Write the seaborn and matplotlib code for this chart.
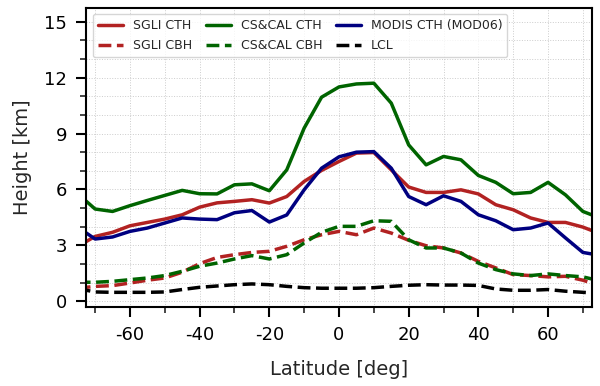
import numpy as np
import pandas as pd
import matplotlib
matplotlib.use('Agg')
from matplotlib import pyplot as plt
from matplotlib.ticker import MultipleLocator
import seaborn as sns

# latitude bins, every 5 deg
lat = np.arange(-75, 80, 5)

sgli_cth = [2.94, 3.48, 3.70, 4.05, 4.23, 4.41, 4.64, 5.05, 5.28, 5.36, 5.45, 5.27, 5.62, 6.43, 7.02, 7.50,
            7.95, 7.98, 7.05, 6.13, 5.84, 5.84, 5.98, 5.76, 5.18, 4.91, 4.47, 4.23, 4.23, 3.98, 3.62]
sgli_cbh = [0.70, 0.80, 0.84, 0.98, 1.13, 1.25, 1.56, 2.02, 2.35, 2.50, 2.62, 2.68, 2.95, 3.30, 3.57, 3.75,
            3.57, 3.93, 3.66, 3.27, 2.98, 2.86, 2.59, 2.14, 1.79, 1.43, 1.38, 1.31, 1.34, 1.13, 0.83]
cscal_cth = [5.77, 4.95, 4.82, 5.13, 5.41, 5.68, 5.95, 5.77, 5.76, 6.25, 6.30, 5.93, 7.05, 9.29, 10.95, 11.50,
             11.66, 11.70, 10.63, 8.39, 7.32, 7.77, 7.59, 6.75, 6.38, 5.77, 5.84, 6.38, 5.71, 4.82, 4.46]
cscal_cbh = [1.02, 1.02, 1.07, 1.16, 1.25, 1.38, 1.61, 1.88, 2.05, 2.27, 2.45, 2.27, 2.50, 3.13, 3.70, 4.02,
             4.02, 4.32, 4.29, 3.30, 2.86, 2.86, 2.59, 2.05, 1.70, 1.47, 1.38, 1.47, 1.38, 1.31, 1.09]
modis_cth = [3.98, 3.34, 3.45, 3.75, 3.93, 4.20, 4.47, 4.41, 4.38, 4.75, 4.87, 4.25, 4.63, 5.98, 7.14, 7.75,
             8.00, 8.03, 7.14, 5.62, 5.18, 5.66, 5.36, 4.64, 4.32, 3.84, 3.93, 4.20, 3.40, 2.62, 2.46]
lcl = [0.68, 0.50, 0.48, 0.48, 0.48, 0.50, 0.63, 0.75, 0.82, 0.89, 0.93, 0.89, 0.80, 0.73, 0.70, 0.70,
       0.70, 0.73, 0.80, 0.86, 0.89, 0.87, 0.87, 0.85, 0.66, 0.59, 0.59, 0.63, 0.54, 0.48, 0.42]

series = [('SGLI CTH', sgli_cth, 'firebrick', '-'),
          ('SGLI CBH', sgli_cbh, 'firebrick', '--'),
          ('CS&CAL CTH', cscal_cth, 'darkgreen', '-'),
          ('CS&CAL CBH', cscal_cbh, 'darkgreen', '--'),
          ('MODIS CTH (MOD06)', modis_cth, 'navy', '-'),
          ('LCL', lcl, 'black', '--')]

sns.set_style('ticks')
plt.rcParams['font.family'] = ['DejaVu Sans']

fig, ax = plt.subplots(figsize=(6.0, 3.86), dpi=100)

for name, vals, col, ls in series:
    df = pd.DataFrame({'lat': lat, 'h': vals})
    sns.lineplot(data=df, x='lat', y='h', ax=ax, color=col, linestyle=ls,
                 linewidth=2.5, label=name)

ax.set_xlim(-72.5, 72.5)
ax.set_ylim(-0.3, 15.75)
ax.xaxis.set_major_locator(MultipleLocator(20))
ax.xaxis.set_minor_locator(MultipleLocator(10))
ax.yaxis.set_major_locator(MultipleLocator(3))
ax.yaxis.set_minor_locator(MultipleLocator(1))
ax.set_xticks(np.arange(-60, 61, 20))
ax.set_xticklabels([str(v) for v in range(-60, 61, 20)])
ax.grid(which='both', color='#cccccc', linestyle=':', linewidth=0.7)
ax.tick_params(which='major', direction='out', length=7, width=1.5, pad=7,
               labelsize=13, colors='black')
ax.tick_params(which='minor', direction='out', length=4, width=1.2)
for sp in ax.spines.values():
    sp.set_visible(True)
    sp.set_linewidth(1.5)
    sp.set_color('black')

ax.set_xlabel('Latitude [deg]', fontsize=14, labelpad=11)
ax.set_ylabel('Height [km]', fontsize=14, labelpad=9)

ax.legend(loc='upper left', ncol=3, fontsize=9, frameon=True, framealpha=0.8,
          edgecolor='#cccccc', borderaxespad=0.5, columnspacing=1.1,
          labelspacing=0.6)

plt.subplots_adjust(left=0.144, right=0.986, top=0.980, bottom=0.205)
plt.savefig('out.png', dpi=100)
